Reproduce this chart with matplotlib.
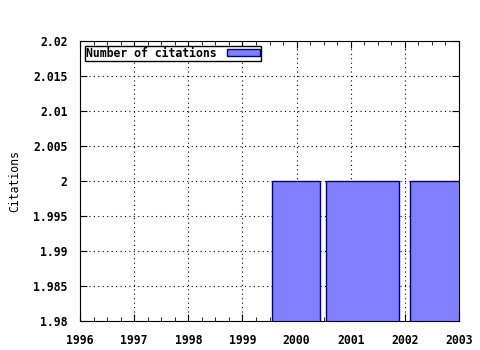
import matplotlib.pyplot as plt
from matplotlib.ticker import MultipleLocator

# bar edges (years)
bar_left = [1999.54, 2000.55, 2002.10]
bar_right = [2000.44, 2001.90, 2003.20]
citations = [2, 2, 2]

plt.rcParams['font.family'] = 'DejaVu Sans Mono'
plt.rcParams['font.weight'] = 'bold'
plt.rcParams['font.size'] = 8.3

fig = plt.figure(figsize=(4.8, 3.5), dpi=100)
ax = fig.add_axes([80 / 480, 29 / 350, 379 / 480, 280 / 350])

widths = [r - l for l, r in zip(bar_left, bar_right)]
ax.bar(bar_left, citations, width=widths, align='edge', color='#8080ff',
       edgecolor='#000080', linewidth=1, label='Number of citations', zorder=2)

ax.set_xlim(1996, 2003)
ax.set_ylim(1.98, 2.02)
ax.xaxis.set_major_locator(MultipleLocator(1))
ax.xaxis.set_minor_locator(MultipleLocator(0.25))
ax.yaxis.set_major_locator(MultipleLocator(0.005))
ax.yaxis.set_major_formatter(plt.FuncFormatter(lambda v, p: f'{v:.3f}'.rstrip('0').rstrip('.')))
ax.tick_params(which='both', direction='in', top=True, right=True, length=5)
ax.tick_params(which='minor', length=3)
ax.tick_params(axis='y', pad=9)
ax.tick_params(axis='x', pad=9)
ax.grid(True, which='major', color='black', linestyle=(0, (1, 3)), linewidth=0.8, zorder=1)
ax.set_axisbelow(True)
ax.set_ylabel('Citations')
ax.yaxis.set_label_coords(-0.155, 0.5)

ax.legend(loc='upper left', markerfirst=False, frameon=True, fancybox=False,
          edgecolor='black', borderpad=0.1, handlelength=2.9, handleheight=0.5,
          handletextpad=0.9, borderaxespad=0.4, framealpha=1)

fig.savefig('out.png')
